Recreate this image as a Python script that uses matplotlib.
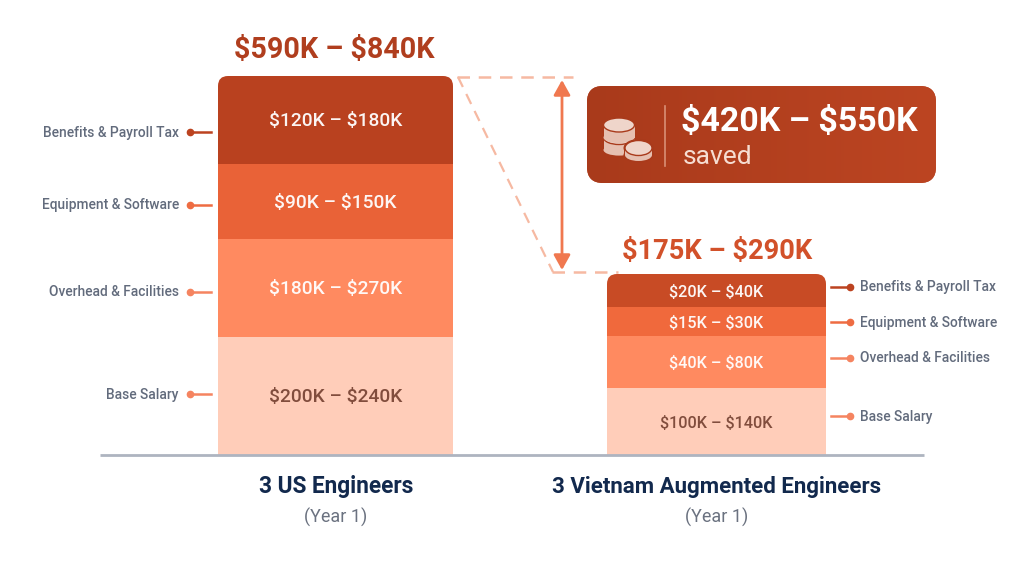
import numpy as np
import matplotlib.pyplot as plt
from matplotlib.colors import LinearSegmentedColormap
from matplotlib.patches import Ellipse, FancyBboxPatch, Rectangle

plt.rcParams['font.family'] = ['Roboto', 'DejaVu Sans']

# dane, kolejnosc od dolu slupka
categories = ["Base Salary", "Overhead & Facilities", "Equipment & Software", "Benefits & Payroll Tax"]
bar_names = ["3 US Engineers", "3 Vietnam Augmented Engineers"]
us_heights = [118, 98, 75, 88]
vn_heights = [67, 52, 29, 33]
us_labels = ["$200K – $240K", "$180K – $270K", "$90K – $150K", "$120K – $180K"]
vn_labels = ["$100K – $140K", "$40K – $80K", "$15K – $30K", "$20K – $40K"]
us_total = "$590K – $840K"
vn_total = "$175K – $290K"
saved = "$420K – $550K"

us_colors = ["#FFCDB9", "#FF8A60", "#E96237", "#B9411F"]
vn_colors = ["#FFCDB9", "#FF8A60", "#F0693C", "#C84B25"]
dot_colors = ["#F58460", "#F58460", "#EE6C42", "#BC4320"]
label_dark = "#7A4636"

BASE = 455


def py(y):
    """Zamienia wiersz pikseli na wspolrzedna y osi"""
    return BASE - y


def stacked(ax, x0, x1, heights, colors, labels, fontsize, dy, dx):
    """Rysuje slupek skumulowany z zaokraglona gora"""
    clip = FancyBboxPatch((x0, -40), x1 - x0, sum(heights) + 40, boxstyle="round,pad=0,rounding_size=10",
                          transform=ax.transData, facecolor="none", edgecolor="none")
    ax.add_patch(clip)
    bottom = 0
    for h, c, lab in zip(heights, colors, labels):
        bars = ax.bar((x0 + x1) / 2, h, x1 - x0, bottom=bottom, color=c, linewidth=0, zorder=2)
        bars[0].set_clip_path(clip)
        col = label_dark if c == "#FFCDB9" else "white"
        ax.text((x0 + x1) / 2 + dx, bottom + h / 2 + dy, lab, color=col, fontsize=fontsize, fontweight="medium",
                ha="center", va="center", alpha=0.95, zorder=4, parse_math=False)
        bottom += h


def coin(ax, cx, top, w, eh, step, layers, z, face="#EFD5CA", side="#E6C0B1", gap="#A93A1B"):
    """Rysuje stos monet, warstwa po warstwie od dolu"""
    # obwodka oddzielajaca stos od tla
    ax.add_patch(Rectangle((cx - w / 2 - 1.5, top - layers * step), w + 3, layers * step, facecolor=gap,
                           edgecolor="none", zorder=z))
    ax.add_patch(Ellipse((cx, top), w + 3, eh + 3, facecolor=gap, edgecolor="none", zorder=z))
    ax.add_patch(Ellipse((cx, top - layers * step), w + 3, eh * 0.8 + 3, facecolor=gap, edgecolor="none", zorder=z))
    z += 0.01
    for i in range(layers - 1, -1, -1):
        y = top - i * step
        ax.add_patch(Rectangle((cx - w / 2, y - step), w, step, facecolor=side, edgecolor="none", zorder=z))
        ax.add_patch(Ellipse((cx, y - step), w, eh * 0.8, facecolor=side, edgecolor="none", zorder=z))
        ax.add_patch(Ellipse((cx, y), w, eh, facecolor=face, edgecolor=gap, linewidth=1, zorder=z))
        z += 0.01


fig = plt.figure(figsize=(10.24, 5.76), dpi=100)
ax = fig.add_axes([0, 0, 1, 1])
ax.set_xlim(0, 1024)
ax.set_ylim(py(576), py(0))
ax.axis("off")

# slupki
stacked(ax, 218, 453, us_heights, us_colors, us_labels, 13.8, -1, 0)
stacked(ax, 607, 826, vn_heights, vn_colors, vn_labels, 11.7, -2, 0)

# os pozioma
ax.plot([100, 924], [0, 0], color="#AEB4C0", lw=2, zorder=3, solid_capstyle="butt")

# sumy nad slupkami
ax.text(334, py(50), us_total, color="#B03E1E", fontsize=20.6, fontweight="bold", ha="center", va="center",
        parse_math=False)
ax.text(717.5, py(252), vn_total, color="#D2512A", fontsize=19.6, fontweight="bold", ha="center", va="center",
        parse_math=False)

# opisy po lewej
left_y = [394, 292, 205, 132]
for name, y, c in zip(categories, left_y, dot_colors):
    ax.text(179, py(y + 0.5), name, color="#626B7C", fontsize=9.9, fontweight="medium", ha="right", va="center")
    ax.plot([190, 211], [py(y), py(y)], color=c, lw=1.8)
    ax.plot([190], [py(y)], "o", color=c, ms=4.5)

# opisy po prawej
right_y = [416, 358, 322, 287]
for name, y, c in zip(categories, right_y, dot_colors):
    ax.text(860, py(y + 0.5), name, color="#626B7C", fontsize=9.9, fontweight="medium", ha="left", va="center")
    ax.plot([831, 850], [py(y), py(y)], color=c, lw=1.8)
    ax.plot([850], [py(y)], "o", color=c, ms=4.5)

# linie przerywane
dash_col = "#F6B9A2"
ax.plot([457, 573], [py(77), py(77)], color=dash_col, lw=1.8, dashes=(5, 3.5))
ax.plot([458, 553], [py(77), py(272)], color=dash_col, lw=1.6, dashes=(5, 3.5))
ax.plot([552, 618], [py(272), py(272)], color=dash_col, lw=1.8, dashes=(5, 3.5))
ax.annotate("", xy=(562, py(80)), xytext=(562, py(270)),
            arrowprops=dict(arrowstyle="<|-|>,head_length=0.45,head_width=0.25", color="#F0784F", lw=2,
                            mutation_scale=20, shrinkA=0, shrinkB=0))

# plakietka z oszczednoscia
badge = FancyBboxPatch((587, py(183)), 349, 97, boxstyle="round,pad=0,rounding_size=16",
                       facecolor="#B23F1E", edgecolor="none", zorder=3)
ax.add_patch(badge)
grad = np.linspace(0, 1, 256).reshape(1, -1)
img = ax.imshow(grad, extent=(587, 936, py(183), py(86)), aspect="auto", zorder=3.5,
                cmap=LinearSegmentedColormap.from_list("b", ["#A93A1B", "#BC4522"]))
img.set_clip_path(badge)
ax.set_xlim(0, 1024)
ax.set_ylim(py(576), py(0))
ax.plot([665, 665], [py(106), py(166)], color="#D98F76", lw=1.2, zorder=5)
coin(ax, 619, py(125), 31, 14, 12.5, 2, 6)
coin(ax, 638.5, py(148), 27, 15, 7, 1, 7)
ax.text(681, py(122), saved, color="white", fontsize=24.4, fontweight="bold", ha="left", va="center", zorder=6,
        parse_math=False)
ax.text(683, py(157), "saved", color="#F6DDD2", fontsize=19, ha="left", va="center", zorder=6)

# nazwy slupkow
for x, name, fs in zip([336, 716.5], bar_names, [16.3, 16]):
    ax.text(x, py(487), name, color="#12294D", fontsize=fs, fontweight="bold", ha="center", va="center")
    ax.text(x, py(517), "(Year 1)", color="#6B7280", fontsize=13, ha="center", va="center")

fig.savefig("out.png", dpi=100, facecolor="white")
